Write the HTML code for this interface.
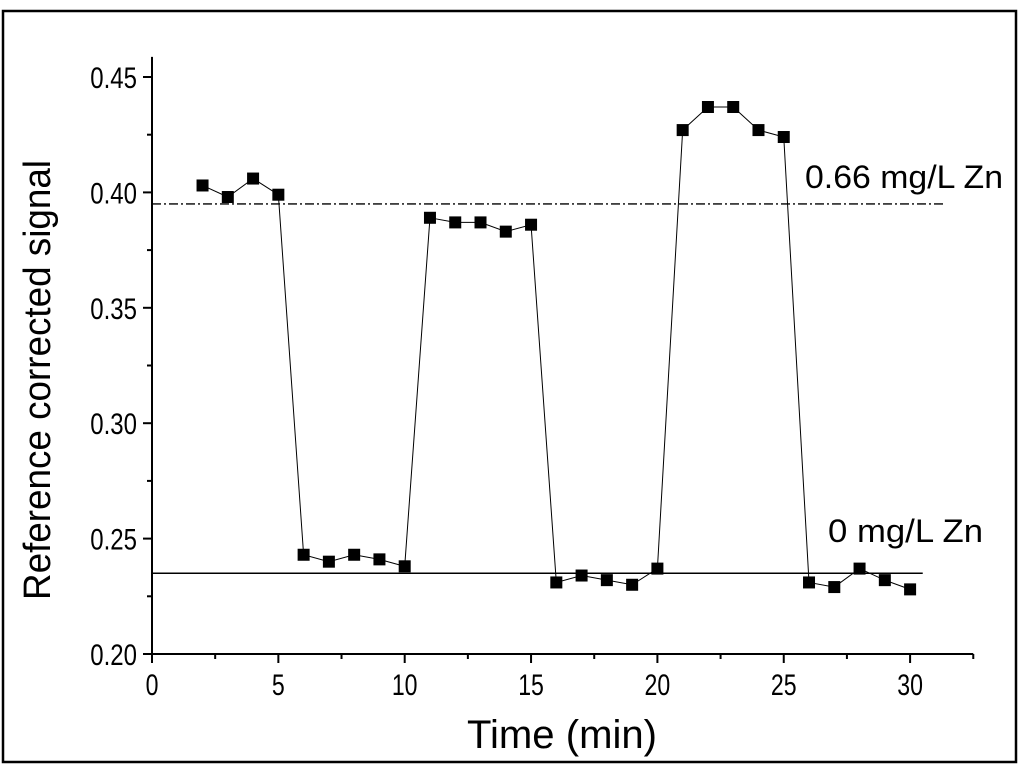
<!DOCTYPE html>
<html><head><meta charset="utf-8"><style>
body{margin:0;background:#fff}
svg{display:block;font-family:"Liberation Sans",Arial,sans-serif}
</style></head><body>
<svg width="1024" height="766">
<rect x="3" y="11" width="1013" height="751" fill="none" stroke="#000" stroke-width="2.5"/>
<g id="axes"></g>
<g id="marks"></g>
<text x="805" y="188" font-size="32" textLength="198" lengthAdjust="spacingAndGlyphs">0.66 mg/L Zn</text>
<text x="828" y="542" font-size="32" textLength="155" lengthAdjust="spacingAndGlyphs">0 mg/L Zn</text>
<text x="467" y="748" font-size="40" textLength="190" lengthAdjust="spacingAndGlyphs">Time (min)</text>
<text transform="translate(50,380) rotate(-90)" font-size="38" text-anchor="middle" textLength="440" lengthAdjust="spacingAndGlyphs">Reference corrected signal</text>
</svg>
<script>
const times=[2,3,4,5,6,7,8,9,10,11,12,13,14,15,16,17,18,19,20,21,22,23,24,25,26,27,28,29,30];
const signal=[0.403,0.398,0.406,0.399,0.243,0.240,0.243,0.241,0.238,0.389,0.387,0.387,0.383,0.386,0.231,0.234,0.232,0.230,0.237,0.427,0.437,0.437,0.427,0.424,0.231,0.229,0.237,0.232,0.228];
const xTicks=[0,5,10,15,20,25,30];
const yTicks=[0.20,0.25,0.30,0.35,0.40,0.45];
const yTickLabels=["0.20","0.25","0.30","0.35","0.40","0.45"];
const refHigh=0.395, refLow=0.235;
const NS="http://www.w3.org/2000/svg";
const X=v=>152+v*25.27, Y=v=>654-(v-0.20)*2308;
function mk(p,t,a){const e=document.createElementNS(NS,t);for(const k in a)e.setAttribute(k,a[k]);p.appendChild(e);return e;}
const ax=document.getElementById('axes'), mg=document.getElementById('marks');
let l=mk(ax,'line',{x1:152,y1:Y(0.2),x2:X(32.5),y2:Y(0.2),stroke:'#000','stroke-width':2});


l=mk(ax,'line',{x1:152,y1:Y(0.2),x2:152,y2:Y(0.4587),stroke:'#000','stroke-width':2});


for(let v=0;v<=32.5;v+=2.5){const maj=v%5===0;mk(ax,'line',{x1:X(v),y1:654,x2:X(v),y2:654+(maj?9:5),stroke:'#000','stroke-width':2});}
xTicks.forEach(v=>{const t=mk(ax,'text',{x:X(v),y:695,'font-size':30,'text-anchor':'middle',transform:`translate(${X(v)},0) scale(0.77,1) translate(${-X(v)},0)`});t.textContent=v;

});
for(let v=0.20;v<=0.4601;v+=0.025){const maj=Math.round(v*1000)%50===0;mk(ax,'line',{x1:152,y1:Y(v),x2:152-(maj?9:5),y2:Y(v),stroke:'#000','stroke-width':2});}
yTicks.forEach((v,i)=>{const t=mk(ax,'text',{x:137,y:Y(v)+11,'font-size':30,'text-anchor':'end',transform:`translate(137,0) scale(0.8,1) translate(-137,0)`});t.textContent=yTickLabels[i];

});
l=mk(mg,'line',{x1:152,y1:Y(refHigh),x2:X(31.4),y2:Y(refHigh),stroke:'#000','stroke-width':1.3,'stroke-dasharray':'9 3 2 3'});


l=mk(mg,'line',{x1:152,y1:Y(refLow),x2:X(30.5),y2:Y(refLow),stroke:'#000','stroke-width':1.5});


const pl=mk(mg,'polyline',{points:times.map((t,i)=>X(t)+','+Y(signal[i])).join(' '),fill:'none',stroke:'#000','stroke-width':1});


times.forEach((t,i)=>{const r=mk(mg,'rect',{x:X(t)-6,y:Y(signal[i])-6,width:12,height:12,fill:'#000'});

});
</script>
</body></html>
